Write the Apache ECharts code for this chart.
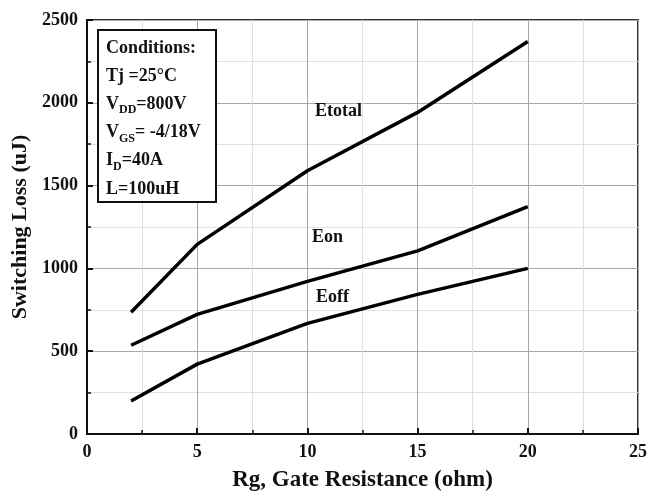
<!DOCTYPE html>
<html><head><meta charset="utf-8">
<script src="https://cdn.jsdelivr.net/npm/echarts@6/dist/echarts.min.js"></script>
<style>html,body{margin:0;padding:0;background:#fff}#c{width:663px;height:496px}</style>
</head><body><div id="c"></div>
<script>
const rg = [2, 5, 10, 15, 20];
const etotal = [735, 1145, 1590, 1942, 2370];
const eon = [536, 722, 922, 1106, 1373];
const eoff = [199, 422, 668, 843, 1000];
const xTicks = [0, 5, 10, 15, 20, 25];
const yTicks = [0, 500, 1000, 1500, 2000, 2500];
const F = '"Liberation Serif","Times New Roman",serif';

const chart = echarts.init(document.getElementById('c'));
const pairs = a => rg.map((x, i) => [x, a[i]]);
const lineStyle = {color: '#000', width: 3.5};
function ser(name, data) {
  return {name, type: 'line', data: pairs(data), symbol: 'none', lineStyle, z: 5};
}
const axisCommon = {
  axisLine: {show: true, onZero: false, lineStyle: {color: '#111', width: 2}},
  axisTick: {show: true, inside: true, length: 6, lineStyle: {color: '#111', width: 2}},
  minorTick: {show: true, splitNumber: 2, length: 4, lineStyle: {color: '#111', width: 1.5}},
  splitLine: {show: true, lineStyle: {color: '#a8a8a8', width: 1}},
  minorSplitLine: {show: true, lineStyle: {color: '#e0e0e0', width: 1}},
  axisLabel: {color: '#111', fontFamily: F, fontWeight: 'bold', fontSize: 18, formatter: v => String(v)},
  nameTextStyle: {color: '#111', fontFamily: F, fontWeight: 'bold', fontSize: 22}
};
chart.setOption({
  backgroundColor: '#fff',
  animation: false,
  grid: {left: 87, right: 25, top: 20, bottom: 62, containLabel: false, outerBoundsMode: 'none',
         show: true, borderColor: '#333', borderWidth: 2, backgroundColor: 'transparent'},
  xAxis: Object.assign({}, axisCommon, {
    type: 'value', min: xTicks[0], max: xTicks[xTicks.length - 1], interval: 5,
    name: 'Rg, Gate Resistance (ohm)', nameLocation: 'middle', nameGap: 35,
    nameTextStyle: Object.assign({}, axisCommon.nameTextStyle, {fontSize: 23}),
    axisLabel: Object.assign({}, axisCommon.axisLabel, {margin: 9})
  }),
  yAxis: Object.assign({}, axisCommon, {
    type: 'value', min: yTicks[0], max: yTicks[yTicks.length - 1], interval: 500,
    name: 'Switching Loss (uJ)', nameLocation: 'middle', nameGap: 54, nameRotate: 90,
    axisLabel: Object.assign({}, axisCommon.axisLabel, {margin: 9})
  }),
  series: [ser('Etotal', etotal), ser('Eon', eon), ser('Eoff', eoff)],
  graphic: [
    {type: 'rect', left: 97, top: 29, shape: {width: 118, height: 172},
     style: {fill: '#fff', stroke: '#111', lineWidth: 2}, z: 10},
    {type: 'text', left: 106, top: 39, z: 11,
     style: {
       text: '{b|Conditions:}\n{b|Tj =25°C}\n{b|V}{s|DD}{b|=800V}\n{b|V}{s|GS}{b|= -4/18V}\n{b|I}{s|D}{b|=40A}\n{b|L=100uH}',
       fontFamily: F, fill: '#111',
       rich: {
         b: {fontFamily: F, fontWeight: 'bold', fontSize: 18, lineHeight: 28.2, fill: '#111'},
         s: {fontFamily: F, fontWeight: 'bold', fontSize: 12, lineHeight: 28.2, padding: [12, 0, 0, 0], fill: '#111'}
       }
     }},
    {type: 'text', left: 315, top: 102, z: 11, style: {text: 'Etotal', font: 'bold 18px ' + F, fill: '#111'}},
    {type: 'text', left: 312, top: 228, z: 11, style: {text: 'Eon', font: 'bold 18px ' + F, fill: '#111'}},
    {type: 'text', left: 316, top: 288, z: 11, style: {text: 'Eoff', font: 'bold 18px ' + F, fill: '#111'}}
  ]
});
</script></body></html>
